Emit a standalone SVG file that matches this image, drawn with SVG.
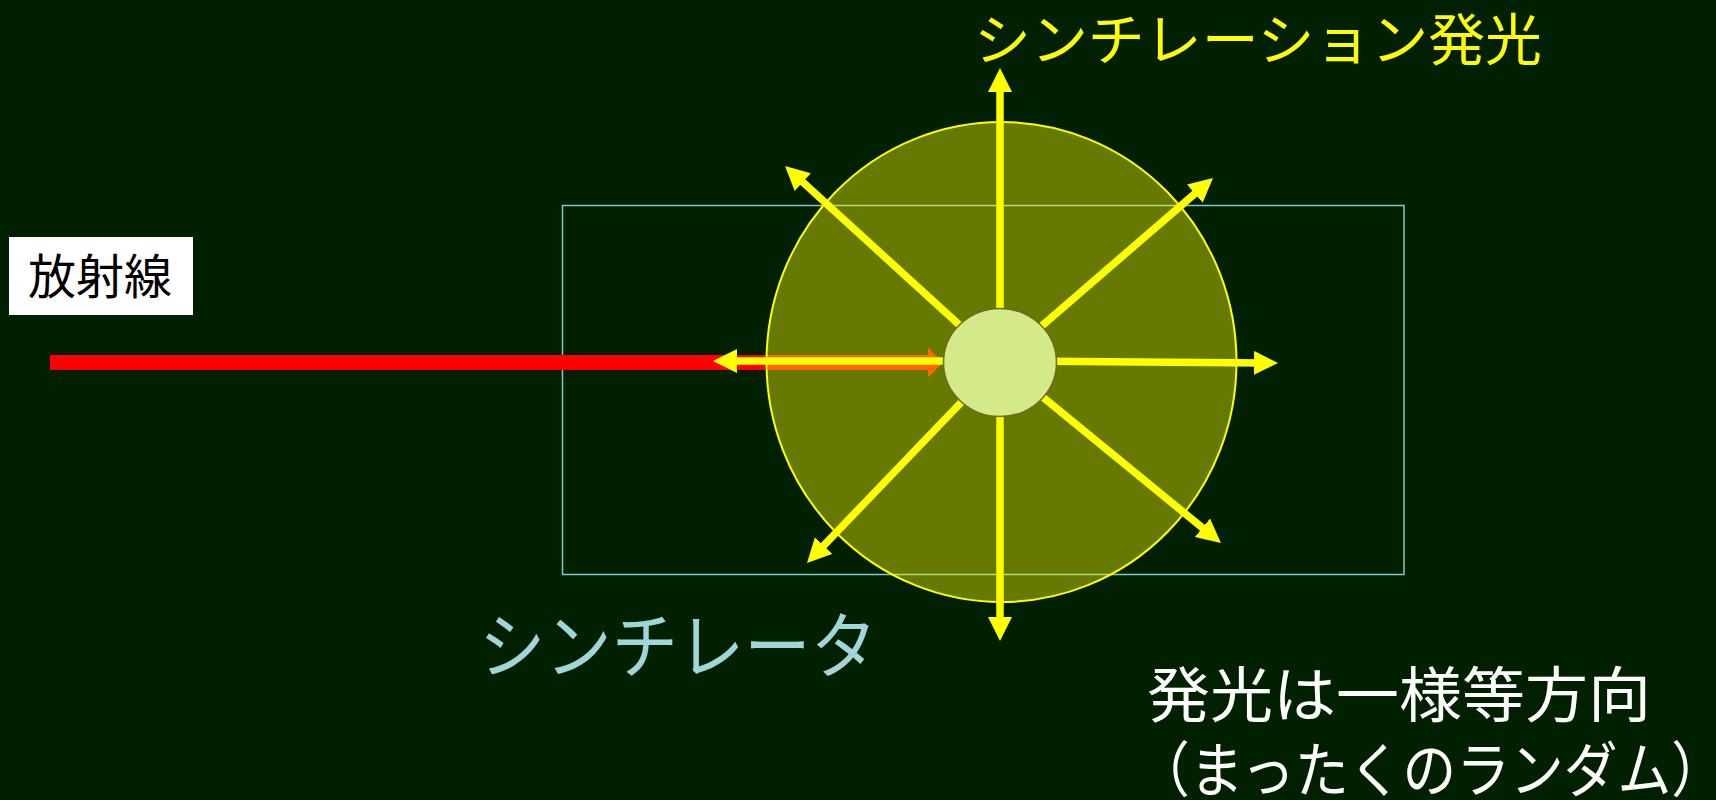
<svg xmlns="http://www.w3.org/2000/svg" width="1716" height="800" viewBox="0 0 1716 800">
<defs>
<style>
.jp{font-family:"Noto Sans CJK JP","Noto Sans CJK SC",sans-serif;}
.ray{stroke:#FFFF00;stroke-width:7.5;fill:none;marker-end:url(#head);}
</style>
<marker id="head" viewBox="0 0 24 24" refX="12" refY="12" markerWidth="24" markerHeight="24" markerUnits="userSpaceOnUse" orient="auto">
<path d="M0,0 L24,12 L0,24 Z" fill="#FFFF00"/>
</marker>
</defs>
<rect x="0" y="0" width="1716" height="800" fill="#002000"/>
<g id="scintillator">
<rect x="562.5" y="205.5" width="841.5" height="369" fill="none" stroke="#80C8D0" stroke-width="1.5"/>
<text class="jp" x="479" y="672" font-size="72" fill="#A0D6DA" textLength="398" lengthAdjust="spacingAndGlyphs">シンチレータ</text>
</g>
<g id="radiation">
<rect x="9" y="237" width="184" height="78" fill="#FFFFFF"/>
<text class="jp" x="28" y="294" font-size="48" fill="#000000" textLength="144" lengthAdjust="spacingAndGlyphs">放射線</text>
<rect x="50" y="355" width="880" height="15" fill="#FF0000"/>
<polygon points="928,347.5 943,362.5 928,377.5" fill="#FF0000"/>
</g>
<g id="emission-sphere">
<ellipse cx="1001.5" cy="362" rx="235" ry="240" fill="#FFFF00" fill-opacity="0.4" stroke="#FFFF00" stroke-width="2"/>
</g>
<g id="connectors">
<line class="ray" x1="1000" y1="362" x2="1000" y2="80"/>
<line class="ray" x1="1000" y1="362" x2="1000" y2="629"/>
<line class="ray" x1="1000" y1="361" x2="1266" y2="363"/>
<line class="ray" x1="1000" y1="361" x2="725" y2="361"/>
<line class="ray" x1="1000" y1="362" x2="793.9" y2="174.1"/>
<line class="ray" x1="1000" y1="362" x2="1203.9" y2="185.8"/>
<line class="ray" x1="1000" y1="362" x2="815.3" y2="554.3"/>
<line class="ray" x1="1000" y1="362" x2="1211.7" y2="535.4"/>
</g>
<g id="source">
<ellipse cx="1000" cy="362.5" rx="56.5" ry="54" fill="#D4EA8A" stroke="#6E6A1E" stroke-width="1.5"/>
</g>
<g id="title">
<text class="jp" x="974" y="60" font-size="56" fill="#FFFF00" textLength="568" lengthAdjust="spacingAndGlyphs">シンチレーション発光</text>
</g>
<g id="note">
<text class="jp" font-size="60" fill="#FFFFFF"><tspan x="1147" y="717" textLength="504" lengthAdjust="spacingAndGlyphs">発光は一様等方向</tspan><tspan x="1136" y="792" textLength="589" lengthAdjust="spacingAndGlyphs">（まったくのランダム）</tspan></text>
</g>
</svg>
